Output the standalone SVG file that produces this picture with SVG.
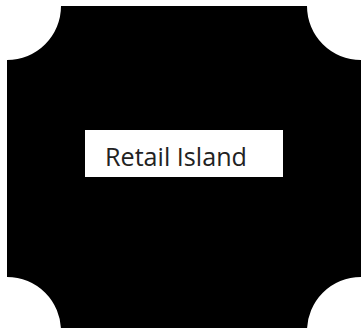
<svg xmlns="http://www.w3.org/2000/svg" width="361" height="328" viewBox="0 0 361 328">
<style>
.island{fill:#000}
.box{fill:#fff}
.label{font-family:"Open Sans","Noto Sans",sans-serif;font-size:25px;fill:#222}
</style>
<rect width="361" height="328" fill="#fff"/>
<g id="retail-island">
<path class="island" d="M61,6 L307,6 A54,54 0 0 0 361,60 L361,277 A54,54 0 0 0 307,331 L61,331 A54,54 0 0 0 7,277 L7,60 A54,54 0 0 0 61,6 Z"/>
<rect class="box" x="85" y="130" width="198" height="47"/>
<text class="label" x="105" y="166" textLength="142" lengthAdjust="spacingAndGlyphs">Retail Island</text>
</g>
</svg>
